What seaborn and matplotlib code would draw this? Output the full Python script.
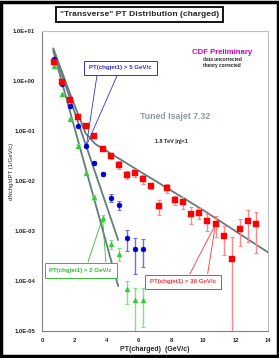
import matplotlib
matplotlib.use("Agg")
import matplotlib.pyplot as plt
import matplotlib.ticker as mticker
from matplotlib.patches import Rectangle
import seaborn as sns
import pandas as pd

# data
pt_red = [0.75, 1.25, 1.75, 2.25, 2.75, 3.25, 3.75, 4.25, 4.75, 5.25, 5.75, 6.25, 6.75,
          7.25, 7.75, 8.25, 8.75, 9.25, 9.75, 10.25, 10.75, 11.25, 11.75, 12.25, 12.75, 13.25]
y_red = [2.4, 0.95, 0.42, 0.19, 0.126, 0.079, 0.043, 0.0316, 0.0212, 0.0132, 0.0147, 0.0111, 0.0081,
         0.00316, 0.0072, 0.0041, 0.00375, 0.0022, 0.0023, 0.0016, 0.00136, 0.0008, 0.00027, 0.0011, 0.0016, 0.00136]
e_red = [0.15, 0.06, 0.025, 0.012, 0.008, 0.005, 0.003, 0.004, 0.0036, 0.0024, 0.0029, 0.0022, 0.0012,
         0.0011, 0.0015, 0.0008, 0.001, 0.0008, 0.0006, 0.0006, 0.0006, 0.00047, 0.0005, 0.0006, 0.001, 0.001]

pt_low = [0.75, 1.25, 1.75, 2.25, 2.75, 3.25, 3.75, 4.25, 4.75, 5.25, 5.75, 6.25]
y_blue = [2.75, 0.87, 0.31, 0.126, 0.051, 0.023, 0.0136, 0.0046, 0.0033, 0.00072, 0.00044, 0.00044]
e_blue = [0.15, 0.04, 0.015, 0.007, 0.003, 0.0018, 0.0012, 0.0008, 0.0007, 0.00033, 0.0003, 0.00025]
y_green = [2.0, 0.55, 0.17, 0.051, 0.0147, 0.0047, 0.0018, 0.00055, 0.00035, 6.8e-5, 4.2e-5, 4.2e-5]
e_green = [0.1, 0.03, 0.01, 0.003, 0.0012, 0.0005, 0.0003, 0.00012, 0.0001, 3.3e-5, 3.2e-5, 3e-5]

# Tuned Isajet 7.32 curves
fit_red_x = [0.7, 1.7, 2.7, 3.3, 3.6, 6.0, 10.0, 14.0]
fit_red_y = [4.5, 0.6, 0.09, 0.055, 0.048, 0.016, 0.0026, 0.000375]
fit_blue_x = [0.7, 4.72]
fit_blue_y = [4.3, 0.00066]
fit_green_x = [0.7, 4.72]
fit_green_y = [4.0, 0.000079]

sns.set_style("white")
plt.rcParams["font.family"] = ["Liberation Sans", "DejaVu Sans"]

fig = plt.figure(figsize=(2.79, 3.58), dpi=100)
ax = fig.add_axes([0.1505, 0.0754, 0.81, 0.838])

line_col = "#637c7c"
for fx, fy in [(fit_red_x, fit_red_y), (fit_blue_x, fit_blue_y), (fit_green_x, fit_green_y)]:
    sns.lineplot(x=fx, y=fy, ax=ax, color=line_col, lw=1.3, sort=False, estimator=None)

series = [
    (pt_low, y_green, e_green, "#33cc33", "#88dd88", "^"),
    (pt_low, y_blue, e_blue, "#0000cc", "#7070dd", "o"),
    (pt_red, y_red, e_red, "#ff0000", "#ff8888", "s"),
]
for xs, ys, es, mc, ec, mk in series:
    ax.errorbar(xs, ys, yerr=es, fmt="none", ecolor=ec, elinewidth=1.0, capsize=1.6, capthick=0.8)
    df = pd.DataFrame({"pt": xs, "dn": ys})
    sns.scatterplot(data=df, x="pt", y="dn", ax=ax, color=mc, marker=mk, s=13, edgecolor=mc,
                    linewidth=0.3, zorder=5)

ax.set_yscale("log", nonpositive="clip")
ax.set_ylim(1e-5, 10)
ax.set_xlim(0, 14)
ax.set_xticks(range(0, 15, 2))
ax.yaxis.set_major_formatter(mticker.FuncFormatter(lambda v, p: "%.1E" % v))
ax.yaxis.set_minor_locator(mticker.LogLocator(base=10, subs=range(2, 10)))
ax.yaxis.set_minor_formatter(mticker.NullFormatter())
ax.tick_params(axis="both", which="major", labelsize=4.2, length=3, width=0.6, color="#808080", pad=2)
ax.tick_params(axis="y", which="minor", length=1.8, width=0.5, color="#808080")
for lab in ax.get_xticklabels() + ax.get_yticklabels():
    lab.set_fontweight("bold")
for s in ax.spines.values():
    s.set_color("#c0c0c0")
    s.set_linewidth(0.8)
ax.spines["left"].set_color("#808080")
ax.spines["bottom"].set_color("#808080")
ax.set_xlabel("PT(charged)  (GeV/c)", fontsize=5, fontweight="bold", labelpad=2)
ax.set_ylabel("")
fig.text(0.043, 0.52, "dNchg/dPT (1/GeV/c)", rotation=90, fontsize=4.3, ha="center", va="center")

# texts
fig.text(0.5, 0.96, '"Transverse" PT Distribution (charged)', ha="center", va="center", fontsize=6.1,
         fontweight="bold", bbox=dict(boxstyle="square,pad=0.45", fc="white", ec="black", lw=1.3))
ax.text(11.15, 3.8, "CDF Preliminary", color="#cc00cc", fontsize=5.6, ha="center", va="center", fontweight="bold")
ax.text(11.15, 2.72, "data uncorrected", fontsize=3.4, ha="center", va="center", fontweight="bold")
ax.text(11.15, 2.0, "theory corrected", fontsize=3.4, ha="center", va="center", fontweight="bold")
ax.text(8.24, 0.193, "Tuned Isajet 7.32", color="#8c9c9c", fontsize=6.3, ha="center", va="center", fontweight="bold")
ax.text(8.03, 0.061, "1.8 TeV |\u03b7|<1", fontsize=4, ha="center", va="center", fontweight="bold")


def callout(text, col, tx, ty, px, py, ends, ratio):
    ax.text(tx, ty, text, color=col, fontsize=4.4, ha="center", va="center", fontweight="bold",
            bbox=dict(boxstyle="square,pad=0.8", fc="white", ec=col, lw=0.7))
    for ex in ends:
        ax.plot([ex, px], [ty * ratio, py], color=col, lw=0.6)


callout("PT(chgjet1) > 5 GeV/c", "#3333cc", 4.86, 1.82, 2.75, 0.051, [3.4, 4.64], 0.69)
callout("PT(chgjet1) > 2 GeV/c", "#33bb33", 2.4, 1.62e-4, 3.75, 0.0018, [2.85, 3.96], 1.48)
callout("PT(chgjet1) > 30 GeV/c", "#ff3333", 8.73, 9.6e-5, 10.75, 0.00136, [9.16, 10.26], 1.44)

fig.add_artist(Rectangle((0.005, 0.005), 0.99, 0.99, transform=fig.transFigure, fill=False, ec="black", lw=2.5))
fig.savefig("out.png", dpi=100)
